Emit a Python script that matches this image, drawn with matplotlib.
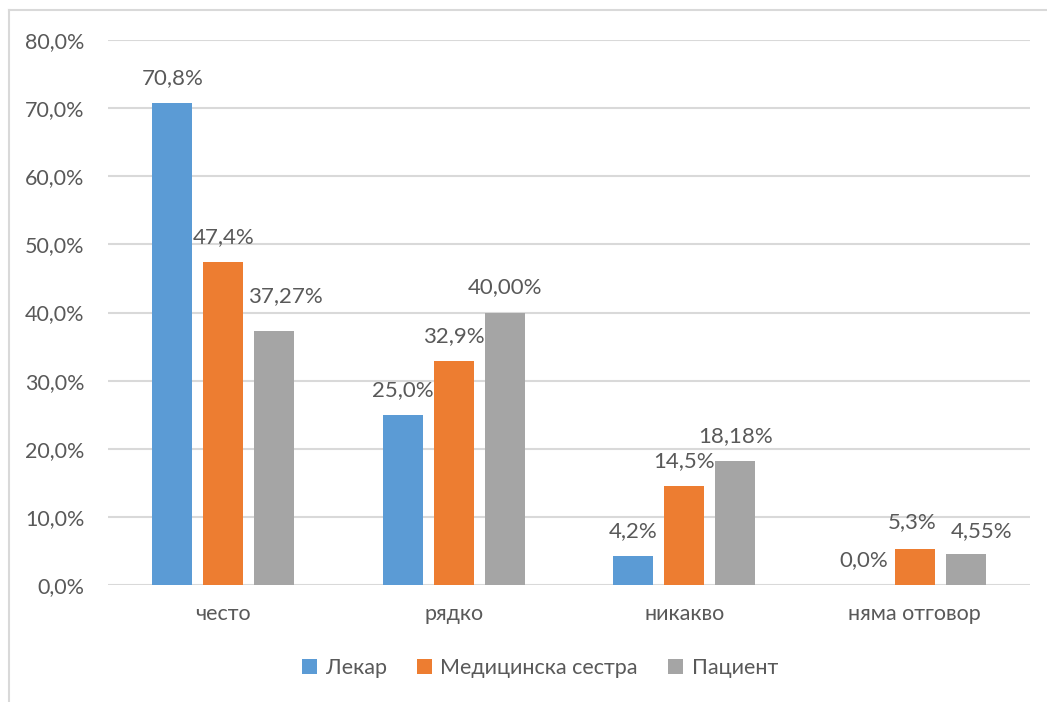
import numpy as np
import matplotlib.pyplot as plt
from matplotlib.lines import Line2D

# data
categories = ['често', 'рядко', 'никакво', 'няма отговор']
series_names = ['Лекар', 'Медицинска сестра', 'Пациент']
lekar = [70.8, 25.0, 4.2, 0.0]
sestra = [47.4, 32.9, 14.5, 5.3]
pacient = [37.27, 40.00, 18.18, 4.55]
decimals = [1, 1, 2]
colors = ['#5B9BD5', '#ED7D31', '#A5A5A5']
yticks = [0, 10, 20, 30, 40, 50, 60, 70, 80]

# nudge a couple of labels so they don't collide (dx, dy in points)
label_shift = {(2, 0): (8, 7), (2, 3): (11.5, -1.5), (1, 3): (-2, 1)}

plt.rcParams['font.family'] = ['Lato', 'DejaVu Sans']
text_color = '#595959'
grid_color = '#D9D9D9'

fig = plt.figure(figsize=(10.47, 7.02), dpi=100)
ax = fig.add_axes([108 / 1047, 1 - 585 / 702, 922 / 1047, 545 / 702])

x = np.arange(len(categories))
width = 0.1735
step = 0.221

for i, (name, vals) in enumerate(zip(series_names, [lekar, sestra, pacient])):
    pos = x + (i - 1) * step
    ax.bar(pos, vals, width=width, color=colors[i], label=name, zorder=3)
    for j, (px, v) in enumerate(zip(pos, vals)):
        txt = f'{v:.{decimals[i]}f}%'.replace('.', ',')
        dx, dy = label_shift.get((i, j), (0, 0))
        ax.annotate(txt, (px, v), xytext=(dx, 18 + dy), textcoords='offset points',
                    ha='center', va='center', fontsize=16, color=text_color)

ax.set_xlim(-0.5, len(categories) - 0.5)
ax.set_ylim(0, 80)
ax.set_yticks(yticks)
ax.set_yticklabels([f'{t:.1f}%'.replace('.', ',') for t in yticks])
ax.set_xticks(x)
ax.set_xticklabels(categories)
ax.tick_params(axis='y', length=0, pad=17, labelsize=15.5, labelcolor=text_color)
ax.tick_params(axis='x', length=0, pad=14, labelsize=15.5, labelcolor=text_color)

for t in yticks:
    ax.axhline(t, color=grid_color, linewidth=1.5, zorder=1)
for s in ax.spines.values():
    s.set_visible(False)

leg = fig.legend(loc='center', bbox_to_anchor=(540 / 1047, 1 - 668 / 702), ncol=3,
                 frameon=False, fontsize=15.5, handlelength=0.7, handleheight=0.7,
                 handletextpad=0.4, columnspacing=1.4)
for t in leg.get_texts():
    t.set_color(text_color)

# chart frame
bx = 9 / 1047
by = 1 - 10 / 702
fig.add_artist(Line2D([bx, bx], [0, by], color=grid_color, linewidth=1.5))
fig.add_artist(Line2D([bx, 1], [by, by], color=grid_color, linewidth=1.5))

fig.savefig('out.png', dpi=100)
